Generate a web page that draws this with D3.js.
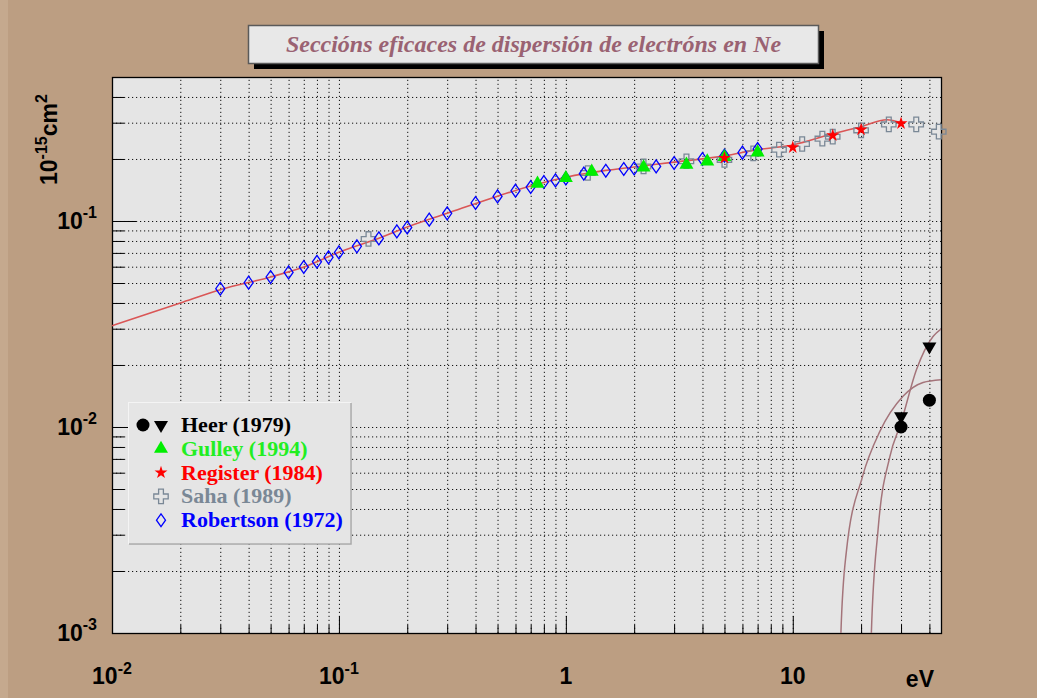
<!DOCTYPE html>
<html>
<head>
<meta charset="utf-8">
<script src="https://cdn.jsdelivr.net/npm/d3@7"></script>
<style>
  body { margin: 0; background: #bc9e82; }
  text { font-family: "Liberation Sans", Arial, sans-serif; }
</style>
</head>
<body>
<div id="chart"></div>
<script>
// Robertson (1972) - open diamonds
const robertsonE = [0.03, 0.04, 0.05, 0.06, 0.07, 0.08, 0.09, 0.1, 0.12, 0.15, 0.18, 0.2, 0.25, 0.3,
                    0.4, 0.5, 0.6, 0.7, 0.8, 0.9, 1.0, 1.2, 1.5, 1.8, 2.0, 2.5, 3.0, 4.0, 5.0, 6.0, 7.0];
const robertsonS = [0.0469, 0.0502, 0.0535, 0.0563, 0.0598, 0.0634, 0.0666, 0.0704, 0.0753, 0.0823, 0.089, 0.093, 0.1015, 0.1089,
                    0.1223, 0.1316, 0.1403, 0.1462, 0.1546, 0.1574, 0.161, 0.1697, 0.1754, 0.1788, 0.18, 0.1841, 0.1912, 0.2, 0.2075, 0.2146, 0.2236];

// Gulley (1994) - green triangles
const gulleyE = [0.75, 1.0, 1.3, 2.2, 3.4, 4.2, 5.0, 7.0];
const gulleyS = [0.1518, 0.1617, 0.1735, 0.182, 0.1876, 0.1947, 0.2045, 0.2153];

// Register (1984) - red stars
const registerE = [5, 10, 15, 20, 30];
const registerS = [0.2022, 0.2277, 0.2603, 0.2775, 0.2977];

// Saha (1989) - open crosses
const sahaE = [0.135, 1.25, 2.2, 3.4, 5.0, 6.7, 8.7, 11, 13.5, 15, 20, 26.5, 35, 44];
const sahaS = [0.0818, 0.171, 0.184, 0.195, 0.198, 0.213, 0.222, 0.2365, 0.251, 0.2566, 0.2754, 0.2944, 0.2944, 0.2714];

// Heer (1979) - circles and down triangles
const heerCircE = [30, 40];
const heerCircS = [0.01, 0.0135];
const heerTriE  = [30, 40];
const heerTriS  = [0.01126, 0.0246];

// fitted curves
const fitE = [0.01, 0.02, 0.03, 0.05, 0.07, 0.1, 0.15, 0.2, 0.3, 0.5, 0.7, 1, 1.5, 2, 3, 5, 7, 10, 15, 20, 26, 30];
const fitS = [0.031, 0.040, 0.0464, 0.0535, 0.0598, 0.0705, 0.0825, 0.0935, 0.109, 0.132, 0.148, 0.163, 0.176, 0.183, 0.193, 0.207, 0.222, 0.234, 0.265, 0.287, 0.31, 0.30];
const heerFitAE = [21.9, 22.2, 23.76, 26.8, 30, 35.1, 41.5, 45];
const heerFitAS = [0.0006, 0.001, 0.00317, 0.0072, 0.0105, 0.019, 0.0275, 0.0299];
const heerFitBE = [16.1, 16.3, 17.2, 20.3, 24.2, 30.6, 37.5, 45];
const heerFitBS = [0.0006, 0.001, 0.00245, 0.00576, 0.00952, 0.0141, 0.01646, 0.01697];

// axis tick labels
const xMajor = [0.01, 0.1, 1, 10];
const xLabelBase = ["10", "10", "1", "10"];
const xLabelExp  = ["-2", "-1", "", ""];
const yMajor = [0.001, 0.01, 0.1];
const yLabelBase = ["10", "10", "10"];
const yLabelExp  = ["-3", "-2", "-1"];

const legendLabels = ["Heer (1979)", "Gulley (1994)", "Register (1984)", "Saha (1989)", "Robertson (1972)"];
const legendColors = ["#000000", "#22ee22", "#ff0000", "#7a8896", "#0000ff"];

// Dimensions
const W = 1037, H = 698;
const plot = { left: 112, right: 941, top: 77, bottom: 633 };

const svg = d3.select("#chart").append("svg")
    .attr("width", W)
    .attr("height", H);

svg.append("rect").attr("width", W).attr("height", H).attr("fill", "#bc9e82");
svg.append("rect").attr("width", 8).attr("height", H).attr("fill", "#c5a98e");

// Scales
const x = d3.scaleLog().domain([0.01, 45]).range([plot.left, plot.right]);
const y = d3.scaleLog().domain([0.001, 0.5]).range([plot.bottom, plot.top]);

const isMajor = d => Math.abs(Math.log10(d) - Math.round(Math.log10(d))) < 1e-6;
const xTicks = x.ticks();
const yTicks = y.ticks();

// Plot area
svg.append("rect")
    .attr("x", plot.left).attr("y", plot.top)
    .attr("width", plot.right - plot.left)
    .attr("height", plot.bottom - plot.top)
    .attr("fill", "#e5e5e5");

// Grid (dotted, every tick)
svg.append("g")
    .attr("transform", `translate(0,${plot.bottom})`)
    .call(d3.axisBottom(x).tickValues(xTicks).tickSize(-(plot.bottom - plot.top)).tickFormat(""))
    .call(g => g.select(".domain").remove())
    .selectAll("line")
    .attr("stroke", "#111")
    .attr("stroke-dasharray", "1.2,2.8");

svg.append("g")
    .attr("transform", `translate(${plot.left},0)`)
    .call(d3.axisLeft(y).tickValues(yTicks).tickSize(-(plot.right - plot.left)).tickFormat(""))
    .call(g => g.select(".domain").remove())
    .selectAll("line")
    .attr("stroke", "#111")
    .attr("stroke-dasharray", "1.2,2.8");

// Ticks (inward)
const tickGroup = (axis, transform) => svg.append("g")
    .attr("transform", transform)
    .call(axis)
    .call(g => g.select(".domain").remove())
    .selectAll("line").attr("stroke", "#000");

tickGroup(d3.axisBottom(x).tickValues(xTicks.filter(d => !isMajor(d))).tickSize(-8).tickFormat(""), `translate(0,${plot.bottom})`);
tickGroup(d3.axisBottom(x).tickValues(xTicks.filter(isMajor)).tickSize(-17).tickFormat(""), `translate(0,${plot.bottom})`);
tickGroup(d3.axisLeft(y).tickValues(yTicks.filter(d => !isMajor(d))).tickSize(-12).tickFormat(""), `translate(${plot.left},0)`);
tickGroup(d3.axisLeft(y).tickValues(yTicks.filter(isMajor)).tickSize(-24).tickFormat(""), `translate(${plot.left},0)`);

// Frame
svg.append("rect")
    .attr("x", plot.left + 0.5).attr("y", plot.top + 0.5)
    .attr("width", plot.right - plot.left)
    .attr("height", plot.bottom - plot.top)
    .attr("fill", "none")
    .attr("stroke", "#000")
    .attr("stroke-width", 1.3);

// Tick labels
const xLabels = svg.append("g").selectAll("text")
    .data(xMajor)
    .enter()
    .append("text")
    .attr("x", d => x(d))
    .attr("y", 684)
    .attr("text-anchor", "middle")
    .style("font-size", "23px")
    .style("font-weight", "bold");
xLabels.append("tspan").text((d, i) => xLabelBase[i]);
xLabels.append("tspan").attr("dy", -10).style("font-size", "16px").text((d, i) => xLabelExp[i]);

const yLabels = svg.append("g").selectAll("text")
    .data(yMajor)
    .enter()
    .append("text")
    .attr("x", 97)
    .attr("y", d => y(d) + 8)
    .attr("text-anchor", "end")
    .style("font-size", "23px")
    .style("font-weight", "bold");
yLabels.append("tspan").text((d, i) => yLabelBase[i]);
yLabels.append("tspan").attr("dy", -11).style("font-size", "16px").text((d, i) => yLabelExp[i]);

svg.append("text")
    .attr("x", 934).attr("y", 687)
    .attr("text-anchor", "end")
    .style("font-size", "23px")
    .style("font-weight", "bold")
    .text("eV");

const yTitle = svg.append("text")
    .attr("transform", "translate(57,185) rotate(-90)")
    .style("font-size", "23px")
    .style("font-weight", "bold");
yTitle.append("tspan").text("10");
yTitle.append("tspan").attr("dy", -10).style("font-size", "16px").text("-15");
yTitle.append("tspan").attr("dy", 10).text("cm");
yTitle.append("tspan").attr("dy", -10).style("font-size", "16px").text("2");

// Curves (clipped to plot area)
svg.append("clipPath").attr("id", "clip")
    .append("rect")
    .attr("x", plot.left).attr("y", plot.top)
    .attr("width", plot.right - plot.left)
    .attr("height", plot.bottom - plot.top);

const curves = svg.append("g").attr("clip-path", "url(#clip)");
const line = d3.line()
    .x(d => x(d[0]))
    .y(d => y(d[1]))
    .curve(d3.curveMonotoneX);

const zip = (a, b) => a.map((v, i) => [v, b[i]]);

curves.append("path")
    .datum(zip(fitE, fitS))
    .attr("d", line)
    .attr("fill", "none")
    .attr("stroke", "#da5656")
    .attr("stroke-width", 1.6);

[zip(heerFitAE, heerFitAS), zip(heerFitBE, heerFitBS)].forEach(pts => {
    curves.append("path")
        .datum(pts)
        .attr("d", line)
        .attr("fill", "none")
        .attr("stroke", "#a4747a")
        .attr("stroke-width", 1.5);
});

// Markers
const sym = (type, size) => d3.symbol().type(type).size(size)();
// ROOT style open diamond (wider than d3's)
const rootDiamond = {
    draw(ctx, size) {
        const h = Math.sqrt(size) * 0.72, w = h * 0.7;
        ctx.moveTo(0, -h);
        ctx.lineTo(w, 0);
        ctx.lineTo(0, h);
        ctx.lineTo(-w, 0);
        ctx.closePath();
    }
};
const markers = svg.append("g");

function drawSeries(ex, sy, path, fill, stroke, rot) {
    markers.selectAll(null)
        .data(zip(ex, sy))
        .enter()
        .append("path")
        .attr("d", path)
        .attr("transform", d => `translate(${x(d[0])},${y(d[1])})` + (rot ? ` rotate(${rot})` : ""))
        .attr("fill", fill)
        .attr("stroke", stroke)
        .attr("stroke-width", 1.3);
}

const diamondPath = sym(rootDiamond, 80);
const crossPath   = sym(d3.symbolCross, 115);
const starPath    = sym(d3.symbolStar, 52);
const triPath     = sym(d3.symbolTriangle, 85);
const circlePath  = sym(d3.symbolCircle, 133);

drawSeries(sahaE, sahaS, crossPath, "none", "#7a8896", 0);
drawSeries(robertsonE, robertsonS, diamondPath, "none", "#0000ff", 0);
drawSeries(gulleyE, gulleyS, triPath, "#00ee00", "none", 0);
drawSeries(registerE, registerS, starPath, "#ff0000", "none", 0);
drawSeries(heerCircE, heerCircS, circlePath, "#000", "none", 0);
drawSeries(heerTriE, heerTriS, triPath, "#000", "none", 180);

// Legend
const legend = svg.append("g");
legend.append("rect")
    .attr("x", 128.5).attr("y", 402.5)
    .attr("width", 222).attr("height", 141)
    .attr("fill", "#e5e5e5")
    .attr("stroke", "#f4f4f4");
legend.append("polyline")
    .attr("points", "351,403 351,544 129,544")
    .attr("fill", "none")
    .attr("stroke", "#a8a8a8")
    .attr("stroke-width", 1.5);

const rowY = (i) => 425 + i * 23.8;
legend.selectAll(".leg-text")
    .data(legendLabels)
    .enter()
    .append("text")
    .attr("class", "leg-text")
    .attr("x", 181)
    .attr("y", (d, i) => rowY(i) + 7)
    .style("font-family", "'Liberation Serif', 'Times New Roman', serif")
    .style("font-size", "22px")
    .style("font-weight", "bold")
    .style("fill", (d, i) => legendColors[i])
    .text(d => d);

const legMark = (path, cx, i, fill, stroke, rot) => legend.append("path")
    .attr("d", path)
    .attr("transform", `translate(${cx},${rowY(i)})` + (rot ? ` rotate(${rot})` : ""))
    .attr("fill", fill)
    .attr("stroke", stroke)
    .attr("stroke-width", 1.3);

legMark(circlePath, 143, 0, "#000", "none", 0);
legMark(triPath, 161, 0, "#000", "none", 180);
legMark(triPath, 161, 1, "#00ee00", "none", 0);
legMark(starPath, 161, 2, "#ff0000", "none", 0);
legMark(crossPath, 161, 3, "none", "#7a8896", 0);
legMark(diamondPath, 161, 4, "none", "#0000ff", 0);

// Title box
svg.append("rect")
    .attr("x", 254).attr("y", 31)
    .attr("width", 570).attr("height", 38)
    .attr("fill", "#000");
svg.append("rect")
    .attr("x", 248.5).attr("y", 25.5)
    .attr("width", 570).attr("height", 38)
    .attr("fill", "#e8e8e8")
    .attr("stroke", "#5a5a5a")
    .attr("stroke-width", 1.5);
svg.append("text")
    .attr("x", 533.5).attr("y", 51.5)
    .attr("text-anchor", "middle")
    .style("font-family", "'Liberation Serif', 'Times New Roman', serif")
    .style("font-size", "24px")
    .style("font-weight", "bold")
    .style("font-style", "italic")
    .style("fill", "#9a6272")
    .text("Seccións eficaces de dispersión de electróns en Ne");
</script>
</body>
</html>
